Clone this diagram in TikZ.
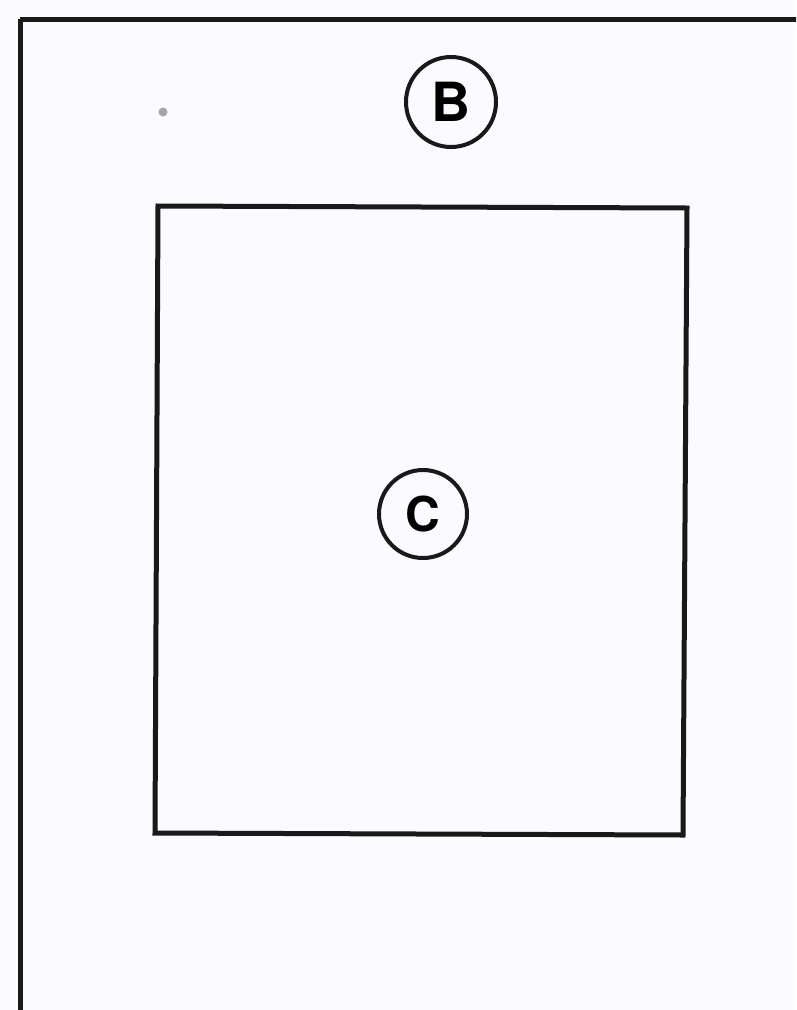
\documentclass[tikz,border=0pt]{standalone}
\usepackage{fontspec}
\setmainfont{TeX Gyre Heros}
\begin{document}
\begin{tikzpicture}[x=1pt,y=-1pt,
  frame/.style={draw=black!90, line width=5pt},
  label circle/.style={circle, draw=black!90, line width=4pt, inner sep=0pt},
]
\clip (0,0) rectangle (796,1010);
\useasboundingbox (0,0) rectangle (796,1010);
\fill[black!6!blue!2!white] (0,0) rectangle (796,1010);
% outer frame (runs off the page at right and bottom)
\draw[frame] (20,19) -- (830,19);
\draw[frame] (20,19) -- (20,1040);
% inner box
\draw[frame] (158,206) -- (687,208) -- (683,835) -- (155,833) -- cycle;
% small gray dot
\fill[black!35] (163,112) circle (4.5pt);
% labels
\node[label circle, minimum width=90pt, minimum height=86pt, font=\fontsize{54}{54}\selectfont\bfseries] (B) at (451,102) {B};
\node[label circle, minimum width=88pt, minimum height=88pt, font=\fontsize{48}{48}\selectfont\bfseries] (C) at (423,514) {C};
\end{tikzpicture}
\end{document}
